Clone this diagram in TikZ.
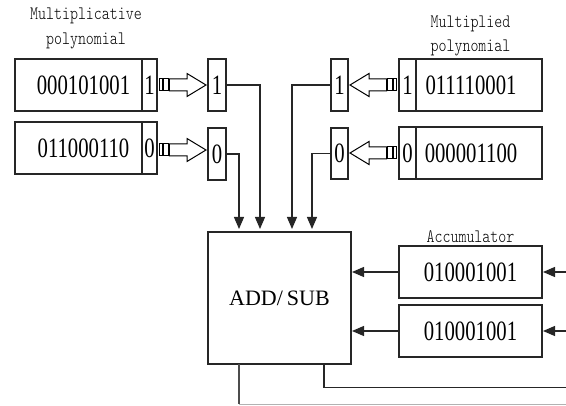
\documentclass[tikz,border=0pt]{standalone}
\usepackage{fontspec}
\usetikzlibrary{arrows.meta}
\newfontfamily\numfont[FakeStretch=0.74]{Liberation Serif}
\newfontfamily\opfont{Liberation Serif}
\newfontfamily\labfont[FakeStretch=0.8]{Latin Modern Mono Light}

\tikzset{
  wire/.style={line width=1.2pt, draw=black!85},
  arr/.style={wire, -{Triangle[length=12pt,width=10pt]}},
  box/.style={draw=black!85, line width=1.2pt, inner sep=0pt},
  digits/.style={inner sep=0pt, font=\numfont\fontsize{28}{30}\selectfont},
  caption/.style={inner sep=0pt, anchor=base, font=\labfont\fontsize{19}{24}\selectfont},
  % shift register output: two small latches and a hollow block arrow
  feed/.pic={
    \draw[line width=1pt] (2.3,-6) rectangle (5.3,6);
    \draw[line width=1pt] (6.7,-6) rectangle (11.3,6);
    \draw[line width=1pt] (12.3,-6) -- (30,-6) -- (30,-11.5) -- (49,0)
      -- (30,11.5) -- (30,6) -- (12.3,6) -- cycle;
  }
}

\begin{document}
\begin{tikzpicture}[x=1pt, y=-1pt]
\useasboundingbox (0,0) rectangle (566,406);

% ---- multiplicative polynomial registers (left)
\node[caption] (mlA) at (86,20) {Multiplicative};
\node[caption] (mlB) at (86,45) {polynomial};

\node[box, minimum width=127pt, minimum height=52pt] (lb1) at (78.5,85) {};
\node[box, minimum width=15pt, minimum height=52pt] (lc1) at (149.5,85) {};
\node[digits] (lt1) at (83.5,85) {000101001};
\node[digits] (ld1) at (lc1) {1};

\node[box, minimum width=127pt, minimum height=52pt] (lb2) at (78.5,148) {};
\node[box, minimum width=15pt, minimum height=52pt] (lc2) at (149.5,148) {};
\node[digits] (lt2) at (83.5,148) {011000110};
\node[digits] (ld2) at (lc2) {0};

\node[box, minimum width=18pt, minimum height=52pt] (lr1) at (217,85) {};
\node[digits] (lq1) at (lr1) {1};
\node[box, minimum width=18pt, minimum height=52pt] (lr2) at (217,154) {};
\node[digits] (lq2) at (lr2) {0};

\coordinate (la1) at (157,85);
\coordinate (la2) at (157,150);
\pic at (la1) {feed};
\pic at (la2) {feed};

% ---- multiplied polynomial registers (right)
\node[caption] (mrA) at (470.5,28) {Multiplied};
\node[caption] (mrB) at (470.5,52) {polynomial};

\node[box, minimum width=126pt, minimum height=52pt] (rb1) at (479,85) {};
\node[box, minimum width=17pt, minimum height=52pt] (rc1) at (407.5,85) {};
\node[digits] (rt1) at (471,85) {011110001};
\node[digits] (rd1) at (rc1) {1};

\node[box, minimum width=126pt, minimum height=52pt] (rb2) at (479,153) {};
\node[box, minimum width=17pt, minimum height=52pt] (rc2) at (407.5,153) {};
\node[digits] (rt2) at (471,153) {000001100};
\node[digits] (rd2) at (rc2) {0};

\node[box, minimum width=17pt, minimum height=52pt] (rr1) at (339.5,85) {};
\node[digits] (rq1) at (rr1) {1};
\node[box, minimum width=17pt, minimum height=51pt] (rr2) at (339.5,153.5) {};
\node[digits] (rq2) at (rr2) {0};

\coordinate (ra1) at (399,85);
\coordinate (ra2) at (399,153);
\pic[rotate=180] at (ra1) {feed};
\pic[rotate=180] at (ra2) {feed};

% ---- adder / subtractor
\node[box, minimum width=143pt, minimum height=132pt,
      font=\opfont\fontsize{22}{26}\selectfont] (add) at (279.5,298) {ADD/\kern4pt SUB};

% ---- accumulator
\node[caption] (accl) at (470.5,243) {Accumulator};
\node[box, minimum width=143pt, minimum height=52pt] (acc1) at (470.5,272) {};
\node[digits] (at1) at (acc1) {010001001};
\node[box, minimum width=143pt, minimum height=52pt] (acc2) at (470.5,331) {};
\node[digits] (at2) at (acc2) {010001001};

% ---- operand bits into the adder
\coordinate (in1) at (239,229);
\coordinate (in2) at (260,229);
\coordinate (in3) at (292,229);
\coordinate (in4) at (312,229);
\draw[arr] (lr1.east) -| (in2);
\draw[arr] (lr2.east) -| (in1);
\draw[arr] (rr1.west) -| (in3);
\draw[arr] (rr2.west) -| (in4);

% ---- accumulator into the adder
\coordinate (ae1) at (352,272);
\coordinate (ae2) at (352,331);
\draw[arr] (acc1.west) -- (ae1);
\draw[arr] (acc2.west) -- (ae2);

% ---- feedback entering the accumulator from the right
\coordinate (e1) at (566,272);
\coordinate (e2) at (566,331);
\coordinate (f1) at (543,272);
\coordinate (f2) at (543,331);
\draw[arr] (e1) -- (f1);
\draw[arr] (e2) -- (f2);

% ---- adder outputs
\coordinate (o1) at (324,364);
\coordinate (o2) at (239,364);
\coordinate (e3) at (566,387.5);
\coordinate (k2) at (239,404.5);
\coordinate (e4) at (566,404.5);
\draw[wire] (o1) |- (e3);
\draw[wire, draw=black!70] (o2) -- (k2);
\draw[line width=1.2pt, draw=black!30] (k2) -- (e4);
\end{tikzpicture}
\end{document}
